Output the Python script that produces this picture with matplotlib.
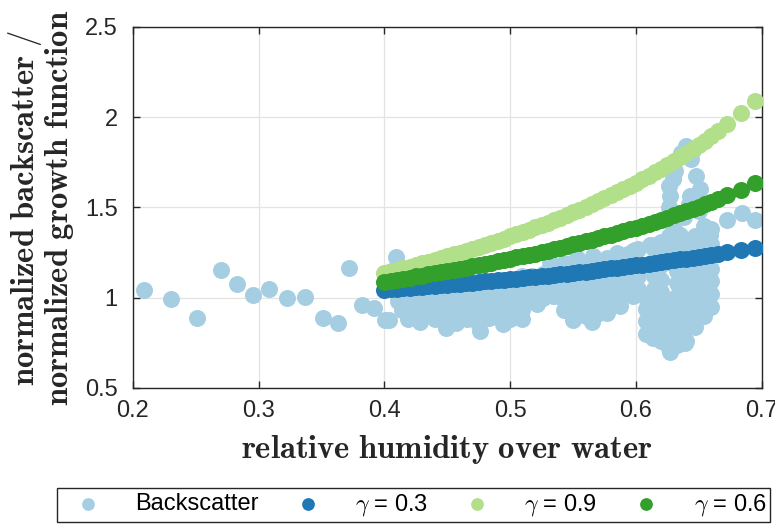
import matplotlib
matplotlib.use("Agg")
import matplotlib.pyplot as plt
from matplotlib.patches import Rectangle

plt.rcParams['mathtext.fontset'] = 'cm'
plt.rcParams['font.family'] = ['Liberation Sans', 'DejaVu Sans']

# measured backscatter ratio vs relative humidity
bs_rh = [
    # low humidity, sparse
    0.209, 0.230, 0.251, 0.270, 0.283, 0.2955, 0.308, 0.3225, 0.337, 0.351,
    0.363, 0.372, 0.382, 0.3915, 0.4005, 0.409, 0.404, 0.4108,
    # lower edge of the main cloud
    0.4188, 0.4286, 0.4493, 0.4758, 0.4944, 0.509, 0.521, 0.5381, 0.550,
    0.5647, 0.5767, 0.5872, 0.5978,
    # points poking above the 0.3 curve
    0.5315, 0.5528, 0.566, 0.5846, 0.598, 0.599, 0.611, 0.6125, 0.635, 0.659,
    # body of the cloud
    0.414, 0.414, 0.414,
    0.423, 0.423, 0.423,
    0.432, 0.432, 0.432,
    0.440, 0.440, 0.440,
    0.448, 0.448, 0.448,
    0.457, 0.457, 0.457, 0.457,
    0.466, 0.466, 0.466,
    0.474, 0.474, 0.474, 0.474,
    0.483, 0.483, 0.483,
    0.491, 0.491, 0.491, 0.491,
    0.500, 0.500, 0.500, 0.500,
    0.509, 0.509, 0.509, 0.509,
    0.517, 0.517, 0.517,
    0.526, 0.526, 0.526,
    0.534, 0.534, 0.534,
    0.543, 0.543, 0.543, 0.543, 0.543,
    0.551, 0.551, 0.551, 0.551, 0.551,
    0.560, 0.560, 0.560, 0.560, 0.560,
    0.569, 0.569, 0.569, 0.569, 0.569,
    0.577, 0.577, 0.577, 0.577, 0.577,
    0.586, 0.586, 0.586, 0.586,
    0.594, 0.594, 0.594, 0.594,
    0.602, 0.602, 0.602, 0.602,
    # high humidity cluster
    0.608, 0.608, 0.608, 0.608,
    0.614, 0.614, 0.614, 0.614, 0.614, 0.614, 0.614, 0.614,
    0.620, 0.620, 0.620, 0.620, 0.620, 0.620, 0.620, 0.620, 0.620,
    0.626, 0.626, 0.626, 0.626, 0.626, 0.626, 0.626, 0.626,
    0.633, 0.633, 0.633, 0.633, 0.633, 0.633, 0.633, 0.633, 0.633, 0.633,
    0.640, 0.640, 0.640, 0.640, 0.640, 0.640, 0.640, 0.640, 0.640,
    0.647, 0.647, 0.647, 0.647, 0.647, 0.647, 0.647, 0.647,
    0.654, 0.654, 0.654, 0.654, 0.654, 0.654, 0.654, 0.654,
    0.660, 0.660, 0.660, 0.660, 0.660, 0.660, 0.660,
    0.6137, 0.627, 0.639, 0.6297, 0.6455, 0.656, 0.611, 0.6085,
    # upper streak
    0.640, 0.644, 0.648, 0.6295, 0.627, 0.626, 0.643, 0.651, 0.6295, 0.647,
    0.6265, 0.6265, 0.6265, 0.650, 0.650, 0.636, 0.645, 0.631, 0.638, 0.642,
    # last samples
    0.6726, 0.684, 0.6947,
]
bs_val = [
    1.044, 0.993, 0.890, 1.154, 1.078, 1.017, 1.050, 0.998, 1.006, 0.890,
    0.861, 1.165, 0.957, 0.944, 0.876, 1.226, 0.878, 0.980,
    0.881, 0.868, 0.835, 0.817, 0.854, 0.883, 0.965, 1.007, 0.878,
    0.868, 0.915, 0.952, 1.007,
    1.190, 1.220, 1.230, 1.248, 1.257, 1.267, 1.294, 1.294, 1.350, 1.350,
    0.93, 1.00, 1.04,
    0.90, 0.96, 1.03,
    0.92, 0.99, 1.05,
    0.88, 0.95, 1.02,
    0.90, 0.97, 1.05,
    0.86, 0.93, 1.00, 1.06,
    0.88, 0.95, 1.03,
    0.86, 0.92, 0.99, 1.07,
    0.89, 0.96, 1.04,
    0.90, 0.97, 1.05, 1.09,
    0.88, 0.95, 1.02, 1.10,
    0.93, 1.00, 1.07, 1.12,
    0.99, 1.05, 1.12,
    1.00, 1.06, 1.13,
    1.01, 1.08, 1.15,
    0.93, 1.00, 1.07, 1.14, 1.19,
    0.93, 0.99, 1.06, 1.13, 1.18,
    0.90, 0.97, 1.04, 1.11, 1.19,
    0.91, 0.98, 1.05, 1.12, 1.20,
    0.95, 1.02, 1.09, 1.16, 1.22,
    0.99, 1.06, 1.13, 1.20,
    1.03, 1.10, 1.17, 1.24,
    1.05, 1.12, 1.19, 1.27,
    0.80, 0.87, 0.94, 1.00,
    0.78, 0.84, 0.91, 0.98, 1.05, 1.12, 1.19, 1.27,
    0.76, 0.82, 0.89, 0.96, 1.03, 1.10, 1.18, 1.25, 1.31,
    0.72, 0.79, 0.86, 0.93, 0.99, 1.20, 1.27, 1.34,
    0.74, 0.80, 0.87, 0.94, 1.01, 1.08, 1.15, 1.22, 1.29, 1.36,
    0.76, 0.83, 0.90, 0.97, 1.04, 1.11, 1.18, 1.25, 1.32,
    0.84, 0.91, 0.98, 1.05, 1.12, 1.19, 1.26, 1.33,
    0.90, 0.97, 1.04, 1.11, 1.18, 1.25, 1.32, 1.40,
    0.95, 1.02, 1.09, 1.16, 1.23, 1.30, 1.38,
    0.776, 0.702, 0.748, 0.832, 0.850, 0.961, 0.868, 0.943,
    1.840, 1.767, 1.674, 1.656, 1.563, 1.470, 1.563, 1.600, 1.396, 1.340,
    1.430, 1.500, 1.620, 1.480, 1.550, 1.800, 1.820, 1.700, 1.450, 1.520,
    1.430, 1.467, 1.430,
]

# normalized growth function at the sampled humidities
gf_rh = [
    0.400, 0.405, 0.410, 0.415, 0.420, 0.425, 0.430, 0.435, 0.440, 0.445,
    0.450, 0.455, 0.460, 0.465, 0.470, 0.475, 0.480, 0.485, 0.490, 0.495,
    0.500, 0.505, 0.510, 0.515, 0.520, 0.525, 0.530, 0.535, 0.540, 0.545,
    0.550, 0.555, 0.560, 0.565, 0.570, 0.575, 0.580, 0.585, 0.590, 0.595,
    0.600, 0.605, 0.610, 0.615, 0.620, 0.625, 0.630, 0.635, 0.640, 0.645,
    0.650, 0.655, 0.660, 0.665, 0.6726, 0.6835, 0.6947,
]
gf_03 = [
    1.044, 1.046, 1.049, 1.052, 1.054, 1.057, 1.060, 1.063, 1.066, 1.068,
    1.071, 1.074, 1.077, 1.080, 1.083, 1.086, 1.090, 1.093, 1.096, 1.099,
    1.102, 1.106, 1.109, 1.113, 1.116, 1.119, 1.123, 1.127, 1.130, 1.134,
    1.138, 1.142, 1.145, 1.149, 1.153, 1.157, 1.162, 1.166, 1.170, 1.174,
    1.179, 1.183, 1.188, 1.192, 1.197, 1.202, 1.207, 1.212, 1.217, 1.222,
    1.227, 1.232, 1.238, 1.243, 1.252, 1.264, 1.278,
]
gf_06 = [
    1.089, 1.095, 1.100, 1.106, 1.112, 1.118, 1.123, 1.129, 1.135, 1.142,
    1.148, 1.154, 1.160, 1.167, 1.174, 1.180, 1.187, 1.194, 1.201, 1.208,
    1.215, 1.223, 1.230, 1.238, 1.245, 1.253, 1.261, 1.269, 1.278, 1.286,
    1.295, 1.303, 1.312, 1.321, 1.330, 1.340, 1.349, 1.359, 1.369, 1.379,
    1.389, 1.400, 1.411, 1.422, 1.433, 1.444, 1.456, 1.468, 1.480, 1.493,
    1.505, 1.518, 1.532, 1.545, 1.567, 1.599, 1.634,
]
gf_09 = [
    1.137, 1.146, 1.154, 1.163, 1.172, 1.181, 1.191, 1.200, 1.210, 1.220,
    1.230, 1.240, 1.250, 1.261, 1.271, 1.282, 1.293, 1.305, 1.316, 1.328,
    1.340, 1.352, 1.364, 1.377, 1.390, 1.403, 1.416, 1.430, 1.444, 1.458,
    1.473, 1.488, 1.503, 1.519, 1.534, 1.551, 1.567, 1.584, 1.602, 1.619,
    1.638, 1.656, 1.675, 1.695, 1.715, 1.736, 1.757, 1.778, 1.801, 1.823,
    1.847, 1.871, 1.896, 1.921, 1.961, 2.022, 2.088,
]

x_ticks = [0.2, 0.3, 0.4, 0.5, 0.6, 0.7]
y_ticks = [0.5, 1.0, 1.5, 2.0, 2.5]
x_ticklabels = ['0.2', '0.3', '0.4', '0.5', '0.6', '0.7']
y_ticklabels = ['0.5', '1', '1.5', '2', '2.5']

c_bs = '#a6cee3'
c_03 = '#1f78b4'
c_09 = '#b2df8a'
c_06 = '#33a02c'

fig = plt.figure(figsize=(7.75, 5.27), dpi=100)
ax = fig.add_axes([0.1716, 0.2638, 0.8112, 0.685])

ms = 150
ax.scatter(bs_rh, bs_val, s=ms, c=c_bs, linewidths=0, label='Backscatter', zorder=2)
ax.scatter(gf_rh, gf_03, s=ms, c=c_03, linewidths=0, label=r'$\gamma$ = 0.3', zorder=3)
ax.scatter(gf_rh, gf_09, s=ms, c=c_09, linewidths=0, label=r'$\gamma$ = 0.9', zorder=3)
ax.scatter(gf_rh, gf_06, s=ms, c=c_06, linewidths=0, label=r'$\gamma$ = 0.6', zorder=3)

ax.set_xlim(0.2, 0.7)
ax.set_ylim(0.5, 2.5)
ax.set_xticks(x_ticks)
ax.set_xticklabels(x_ticklabels)
ax.set_yticks(y_ticks)
ax.set_yticklabels(y_ticklabels)
ax.grid(True, color='#e3e3e3', linewidth=0.9)
ax.set_axisbelow(True)
ax.tick_params(direction='in', length=5, width=1, top=True, right=True,
               labelsize=17, colors='#262626')
ax.tick_params(axis='x', pad=9)
ax.tick_params(axis='y', pad=11)
for sp in ax.spines.values():
    sp.set_color('#262626')
    sp.set_linewidth(1)

fig.text(446.5 / 775, 1 - 449 / 527, r'$\mathbf{relative\ humidity\ over\ water}$',
         ha='center', va='center', fontsize=23.5, color='#262626')
fig.text(41 / 775, 1 - 207.5 / 527,
         r'$\mathbf{normalized\ backscatter\ /}$' + '\n' + r'$\mathbf{normalized\ growth\ function}$',
         ha='center', va='center', rotation=90, fontsize=23.5, color='#262626',
         linespacing=0.95)

# legend row below the axes, with its own box
leg = fig.legend(loc='center left', bbox_to_anchor=(64.5 / 775, 1 - 505 / 527),
                 ncol=4, frameon=False, fontsize=17, markerscale=0.75,
                 handlelength=2.0, handletextpad=1.0, columnspacing=1.08,
                 borderpad=0, borderaxespad=0)
fig.add_artist(Rectangle((57 / 775, 1 - 522 / 527), 713 / 775, 34 / 527,
                         transform=fig.transFigure, fill=False,
                         edgecolor='#262626', linewidth=1))

fig.savefig('out.png', dpi=100)
